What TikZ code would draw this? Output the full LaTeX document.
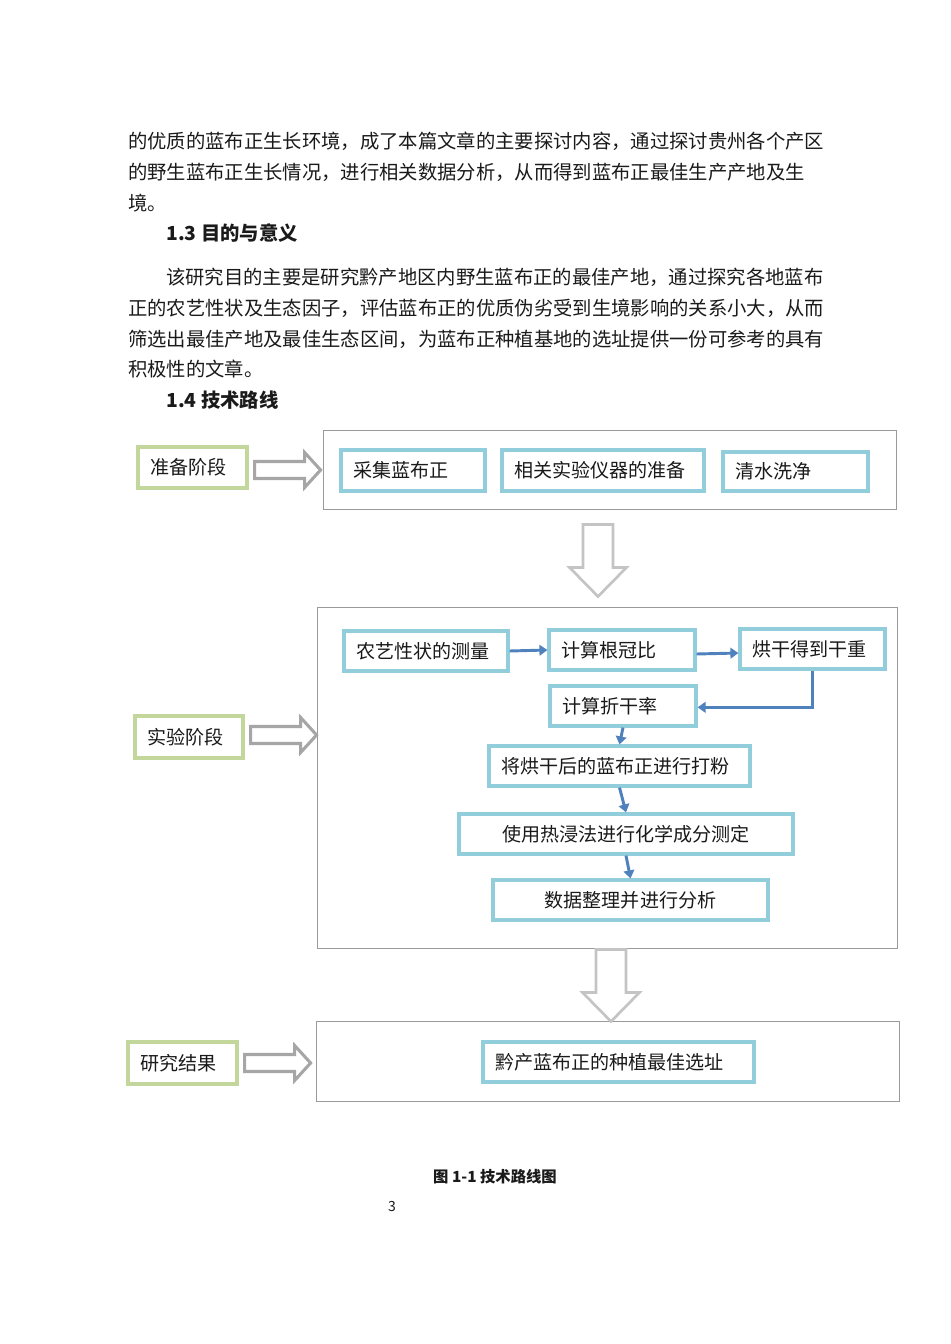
\documentclass[tikz,border=0pt]{standalone}
\usepackage{fontspec}
\setmainfont{Noto Sans CJK SC}
\usetikzlibrary{positioning,arrows.meta,calc}

\definecolor{stagegreen}{HTML}{C3D69B}
\definecolor{stepblue}{HTML}{92CDDC}
\definecolor{flowblue}{HTML}{4F81BD}
\definecolor{outline}{HTML}{9A9A9A}
\definecolor{hollowdark}{HTML}{A6A6A6}
\definecolor{hollowlight}{HTML}{C4C4C4}
\definecolor{ink}{HTML}{1A1A1A}

\tikzset{
  para/.style     = {anchor=west, inner sep=0pt, font=\fontsize{14.5}{17}\selectfont, text=ink},
  sechead/.style  = {para, font=\fontsize{14.5}{17}\selectfont\bfseries},
  stagebox/.style = {draw=stagegreen, fill=white, line width=2.4pt, inner xsep=9pt, inner ysep=0pt,
                     align=left, font=\fontsize{14.3}{17}\selectfont, text=ink},
  stepbox/.style  = {draw=stepblue, fill=white, line width=2.4pt, inner xsep=9pt, inner ysep=0pt,
                     align=left, font=\fontsize{14.3}{17}\selectfont, text=ink},
  midbox/.style   = {stepbox, align=center},
  framebox/.style = {draw=outline, line width=0.7pt, inner xsep=9pt, inner ysep=0pt},
  flow/.style     = {->, draw=flowblue, line width=2.2pt, >={Triangle[length=6pt,width=8pt]}},
  rarrow/.style   = {draw=hollowdark, fill=white, line width=2.3pt, line join=miter},
  darrow/.style   = {draw=hollowlight, fill=white, line width=2pt, line join=miter},
  captext/.style  = {inner sep=0pt, font=\fontsize{11.5}{14}\selectfont\bfseries, text=ink},
  pagenum/.style  = {inner sep=0pt, font=\fontsize{10.5}{12}\selectfont, text=ink},
}

% box from its left, top, right and bottom edge (pixels)
\newcommand{\rtbox}[7]{%
  \pgfmathsetmacro{\rtw}{(#5-#3)*0.75-18}%
  \pgfmathsetmacro{\rth}{(#6-#4)*0.75}%
  \node[#1, text width=\rtw pt, minimum height=\rth pt] (#2) at ({(#3+#5)/2},{(#4+#6)/2}) {#7};}
\newcommand{\hollowright}[1]{\draw[rarrow] (#1) ++(0,-8.5) -- ++(50,0) -- ++(0,-9) -- ++(16,17.5)
  -- ++(-16,17.5) -- ++(0,-9) -- ++(-50,0) -- cycle;}
\newcommand{\hollowdown}[1]{\draw[darrow] (#1) ++(-15,0) -- ++(30,0) -- ++(0,43) -- ++(13.5,0)
  -- ++(-28.5,29) -- ++(-28.5,-29) -- ++(13.5,0) -- cycle;}

\begin{document}
\begin{tikzpicture}[x=0.75pt,y=-0.75pt]
\fill[white] (0,0) rectangle (950,1344);
\useasboundingbox (0,0) rectangle (950,1344);

% ------------------------------------------------------------------ text
\node[para] (l1) at (128,141) {的优质的蓝布正生长环境，成了本篇文章的主要探讨内容，通过探讨贵州各个产区};
\node[para] (l2) at (128,172) {的野生蓝布正生长情况，进行相关数据分析，从而得到蓝布正最佳生产产地及生};
\node[para] (l3) at (128,203) {境。};
\node[sechead] (h13) at (166,233) {1.3 目的与意义};
\node[para] (p1) at (166,277) {该研究目的主要是研究黔产地区内野生蓝布正的最佳产地，通过探究各地蓝布};
\node[para] (p2) at (128,308) {正的农艺性状及生态因子，评估蓝布正的优质伪劣受到生境影响的关系小大，从而};
\node[para] (p3) at (128,339) {筛选出最佳产地及最佳生态区间，为蓝布正种植基地的选址提供一份可参考的具有};
\node[para] (p4) at (128,369) {积极性的文章。};
\node[sechead] (h14) at (166,400) {1.4 技术路线};

% ------------------------------------------------------------------ frames
\rtbox{framebox}{f1}{323}{430}{896}{509}{}
\rtbox{framebox}{f2}{317}{607}{897}{948}{}
\rtbox{framebox}{f3}{316}{1021}{899}{1101}{}

% ------------------------------------------------------------------ stages
\rtbox{stagebox}{s1}{138}{447}{247}{488}{准备阶段}
\rtbox{stagebox}{s2}{135}{716}{243}{758}{实验阶段}
\rtbox{stagebox}{s3}{128}{1042}{237}{1084}{研究结果}

\hollowright{$(s1.east)+(6,2.5)$}
\hollowright{$(s2.east)+(6,-2)$}
\hollowright{$(s3.east)+(6,0)$}
\hollowdown{$(f1.south)+(-11.5,15)$}
\hollowdown{$(f2.south)+(4,1)$}

% ------------------------------------------------------------------ steps
\rtbox{stepbox}{a1}{341}{450}{485}{491}{采集蓝布正}
\rtbox{stepbox}{a2}{502}{450}{704}{491}{相关实验仪器的准备}
\rtbox{stepbox}{a3}{723}{452}{868}{491}{清水洗净}

\rtbox{stepbox}{b1}{344}{631}{508}{671}{农艺性状的测量}
\rtbox{stepbox}{b2}{549}{630}{695}{670}{计算根冠比}
\rtbox{stepbox}{b3}{740}{629}{885}{669}{烘干得到干重}
\rtbox{stepbox}{b4}{550}{686}{696}{726}{计算折干率}
\rtbox{stepbox}{b5}{489}{746}{750}{786}{将烘干后的蓝布正进行打粉}
\rtbox{midbox}{b6}{459}{814}{793}{854}{使用热浸法进行化学成分测定}
\rtbox{midbox}{b7}{493}{880}{768}{920}{数据整理并进行分析}

\rtbox{stepbox}{c1}{483}{1042}{754}{1082}{黔产蓝布正的种植最佳选址}

\draw[flow] (b1.east) -- (b2.west);
\draw[flow] ([yshift=-3pt]b2.east) -- ([yshift=-3pt]b3.west);
\draw[flow] (b3.south) |- ([yshift=-1pt]b4.east);
\draw[flow] (b4.south) -- (b5.north);
\draw[flow] (b5.south) -- (b6.north);
\draw[flow] (b6.south) -- (b7.north);

% ------------------------------------------------------------------ caption
\node[captext] (cap) at (495,1177) {图 1-1 技术路线图};
\node[pagenum] (pg) at (392,1206) {3};

\end{tikzpicture}
\end{document}
